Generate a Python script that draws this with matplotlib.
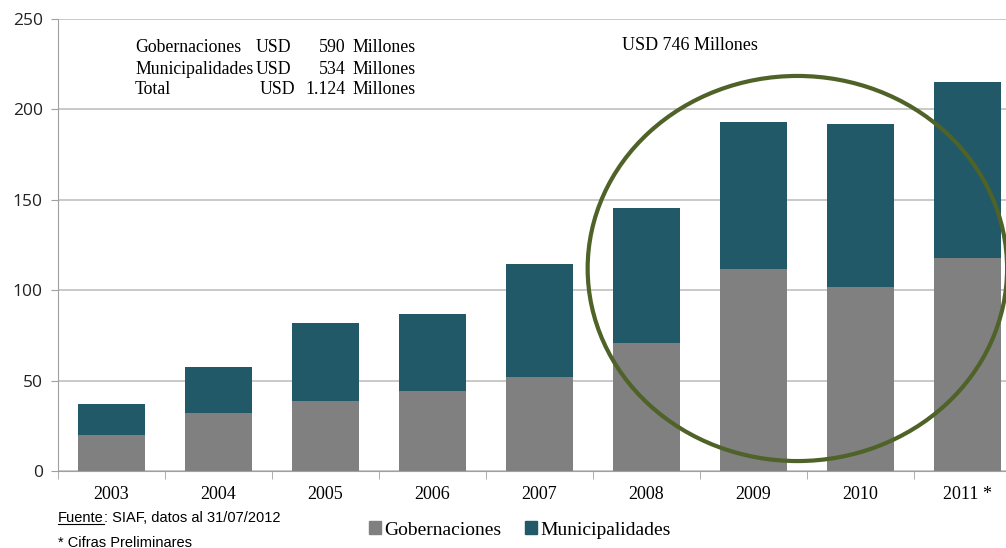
import matplotlib.pyplot as plt
from matplotlib.patches import Ellipse, Patch

# Transferencias por año (millones USD)
anios = ["2003", "2004", "2005", "2006", "2007", "2008", "2009", "2010", "2011 *"]
gobernaciones = [20, 32, 38.5, 44.5, 52, 71, 112, 102, 118]
municipalidades = [17, 25.5, 43.5, 42.5, 62.5, 74.5, 81, 90, 97]

resumen_nombres = ["Gobernaciones", "Municipalidades", "Total"]
resumen_valores = ["590", "534", "1.124"]

color_gob = "#808080"
color_mun = "#215968"
serif = ["Liberation Serif", "DejaVu Serif"]

fig = plt.figure(figsize=(10.06, 5.48), dpi=100)
ax = fig.add_axes([58 / 1006, 77 / 548, 963 / 1006, 452 / 548])

x = list(range(len(anios)))
ax.bar(x, gobernaciones, width=0.62, color=color_gob, zorder=2)
ax.bar(x, municipalidades, width=0.62, bottom=gobernaciones, color=color_mun, zorder=2)

ax.set_xlim(-0.5, len(anios) - 0.5)
ax.set_ylim(0, 250)
ax.set_yticks(range(0, 251, 50))
ax.yaxis.grid(True, color="#c0c0c0", linewidth=1.2, zorder=0)
ax.tick_params(axis="y", length=5, color="#a0a0a0", labelsize=12.5, pad=6)
for lbl in ax.get_yticklabels():
    lbl.set_fontfamily(["Open Sans", "DejaVu Sans"])
    lbl.set_color("#222222")

# Etiquetas de años centradas, marcas en los límites de cada categoría
ax.set_xticks(x)
ax.set_xticklabels(anios, fontfamily=serif, fontsize=13)
ax.set_xticks([i - 0.5 for i in range(len(anios) + 1)], minor=True)
ax.tick_params(axis="x", which="major", length=0, pad=11)
ax.tick_params(axis="x", which="minor", length=6, color="#a0a0a0")

for side in ["top", "right"]:
    ax.spines[side].set_visible(False)
ax.spines["left"].set_color("#a0a0a0")
ax.spines["bottom"].set_color("#a0a0a0")

# Círculo que resalta 2008-2011
ax.add_patch(Ellipse((6.41, 112), 3.92, 213, fill=False, edgecolor="#4f6228",
                     linewidth=3, zorder=3, clip_on=False))

# Cuadro de resumen
filas_y = [48, 70, 90]
for nombre, valor, yy in zip(resumen_nombres, resumen_valores, filas_y):
    fy = 1 - yy / 548
    fig.text(135 / 1006, fy, nombre, family=serif, fontsize=12.8, va="center")
    fig.text((260 if nombre == "Total" else 256) / 1006, fy, "USD",
             family=serif, fontsize=12.8, va="center")
    fig.text(346 / 1006, fy, valor, family=serif, fontsize=12.8, va="center", ha="right")
    fig.text(352 / 1006, fy, "Millones", family=serif, fontsize=12.8, va="center")

fig.text(622 / 1006, 1 - 45 / 548, "USD 746 Millones", family=serif, fontsize=13, va="center")

# Leyenda
handles = [Patch(color=color_gob), Patch(color=color_mun)]
ax.legend(handles, ["Gobernaciones", "Municipalidades"], loc="center",
          bbox_to_anchor=(462 / 963, -59 / 452), ncol=2, frameon=False,
          prop={"family": serif, "size": 14}, handlelength=0.6, handleheight=0.6,
          handletextpad=0.2, columnspacing=1.2)

# Fuente (con "Fuente" subrayado)
sans = ["Liberation Sans", "DejaVu Sans"]
fy = 1 - 522 / 548
t = fig.text(58 / 1006, fy, "Fuente", family=sans, fontsize=10.5, va="baseline")
fig.canvas.draw()
bb = t.get_window_extent(fig.canvas.get_renderer()).transformed(fig.transFigure.inverted())
fig.text(bb.x1, fy, ": SIAF, datos al 31/07/2012", family=sans, fontsize=10.5, va="baseline")
fig.add_artist(plt.Line2D([bb.x0, bb.x1], [fy - 0.004, fy - 0.004],
                          color="black", linewidth=0.8))
fig.text(58 / 1006, 1 - 547 / 548, "* Cifras Preliminares", family=sans, fontsize=10.5,
         va="baseline")

fig.savefig("out.png", dpi=100)
